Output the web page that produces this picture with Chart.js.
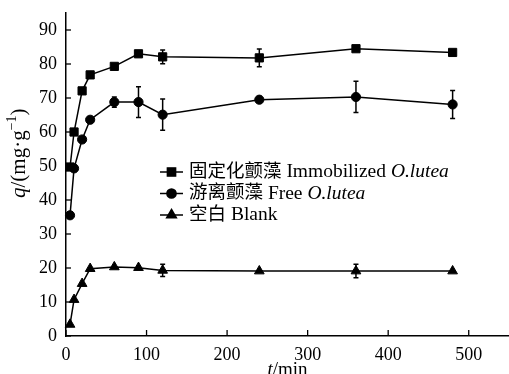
<!DOCTYPE html>
<html>
<head>
<meta charset="utf-8">
<script src="https://cdn.jsdelivr.net/npm/chart.js@4"></script>
<style>
html,body{margin:0;padding:0;background:#fff;}
canvas{display:block;}
</style>
</head>
<body>
<canvas id="c" width="509" height="374"></canvas>
<script>
// ---- data ----
const times = [5, 10, 20, 30, 60, 90, 120, 240, 360, 480];
const immobilized = [49.7, 60.0, 72.1, 76.8, 79.3, 83.0, 82.1, 81.8, 84.5, 83.4];
const immobilizedErr = [0, 0, 0, 0, 0, 0.8, 2.0, 2.6, 0.6, 0.6];
const freeAlgae = [35.5, 49.3, 57.8, 63.6, 68.8, 68.8, 65.1, 69.5, 70.3, 68.1];
const freeErr = [0, 0, 0, 0, 1.5, 4.5, 4.6, 0, 4.6, 4.1];
const blank = [3.4, 10.7, 15.4, 19.8, 20.3, 20.1, 19.3, 19.1, 19.1, 19.1];
const blankErr = [0, 0, 0, 0, 0, 0, 1.8, 0, 2.0, 0];
const xTicks = [0, 100, 200, 300, 400, 500];
const yTicks = [0, 10, 20, 30, 40, 50, 60, 70, 80, 90];
// [text, italic, fontSize]
const legendLabels = [
  [["固定化颤藻", false, 18.5], [" Immobilized ", false, 19.5], ["O.lutea", true, 19.5]],
  [["游离颤藻", false, 18.5], [" Free ", false, 19.5], ["O.lutea", true, 19.5]],
  [["空白", false, 18.5], [" Blank", false, 19.5]]
];

const FAM = "'Liberation Serif', 'Noto Sans CJK SC', serif";
Chart.defaults.font.family = FAM;
Chart.defaults.font.size = 18;
Chart.defaults.color = '#000';

function pts(vals){ return times.map((t,i)=>({x:t,y:vals[i]})); }

function ds(label, vals, errs, style, radius){
  return {
    label, data: pts(vals), errors: errs,
    borderColor:'#000', backgroundColor:'#000', borderWidth:1.5,
    pointStyle:style, pointRadius:radius, pointHoverRadius:radius,
    pointBackgroundColor:'#000', pointBorderColor:'#000', pointBorderWidth:1,
    tension:0, fill:false, clip:false
  };
}

const extras = {
  id:'extras',
  afterDatasetsDraw(chart){
    const ctx = chart.ctx, xs = chart.scales.x, ys = chart.scales.y;
    ctx.save();
    ctx.strokeStyle='#000'; ctx.lineWidth=1.5;
    // error bars
    chart.data.datasets.forEach(d=>{
      d.data.forEach((p,i)=>{
        const e = d.errors[i];
        if(!e) return;
        const x = xs.getPixelForValue(p.x);
        const y1 = ys.getPixelForValue(p.y+e), y2 = ys.getPixelForValue(p.y-e);
        ctx.beginPath();
        ctx.moveTo(x,y1); ctx.lineTo(x,y2);
        ctx.moveTo(x-2.5,y1); ctx.lineTo(x+2.5,y1);
        ctx.moveTo(x-2.5,y2); ctx.lineTo(x+2.5,y2);
        ctx.stroke();
      });
    });
    // inward ticks
    ctx.lineWidth=1.3;
    const ca = chart.chartArea;
    xTicks.forEach(v=>{
      const x = xs.getPixelForValue(v);
      ctx.beginPath(); ctx.moveTo(x,ca.bottom); ctx.lineTo(x,ca.bottom-6); ctx.stroke();
    });
    yTicks.forEach(v=>{
      const y = ys.getPixelForValue(v);
      ctx.beginPath(); ctx.moveTo(ca.left,y); ctx.lineTo(ca.left+5,y); ctx.stroke();
    });
    // legend
    const rows = [172, 193.5, 215];
    chart.data.datasets.forEach((d,i)=>{
      const y = rows[i];
      ctx.lineWidth=1.5;
      ctx.beginPath(); ctx.moveTo(160,y); ctx.lineTo(183,y); ctx.stroke();
      Chart.helpers.drawPoint(ctx,{pointStyle:d.pointStyle, radius:d.pointRadius, borderWidth:1}, 171.5, y);
      ctx.fill();
      let x = 189;
      ctx.textBaseline='middle'; ctx.textAlign='left'; ctx.fillStyle='#000';
      legendLabels[i].forEach(([txt,it,sz])=>{
        ctx.font = (it?'italic ':'') + sz + 'px ' + FAM;
        ctx.fillText(txt,x,y);
        x += ctx.measureText(txt).width;
      });
    });
    // x title
    ctx.textBaseline='alphabetic';
    let parts = [["t",true],["/min",false]];
    let w = 0;
    parts.forEach(([t,it])=>{ctx.font=(it?'italic ':'')+'19px '+FAM; w+=ctx.measureText(t).width;});
    let x0 = (ca.left+ca.right)/2 - w/2;
    parts.forEach(([t,it])=>{ctx.font=(it?'italic ':'')+'19px '+FAM; ctx.fillText(t,x0,375); x0+=ctx.measureText(t).width;});
    // y title
    ctx.save();
    ctx.translate(25,198);
    ctx.rotate(-Math.PI/2);
    let yp = [["q",true,21,0],["/(mg·g",false,21,0],["−1",false,14,-9],[")",false,21,0]];
    let cx = 0;
    yp.forEach(([t,it,s,dy])=>{ctx.font=(it?'italic ':'')+s+'px '+FAM; ctx.fillText(t,cx,dy); cx+=ctx.measureText(t).width;});
    ctx.restore();
    ctx.restore();
  }
};

new Chart(document.getElementById('c'),{
  type:'line',
  data:{datasets:[
    ds('固定化颤藻 Immobilized O.lutea', immobilized, immobilizedErr, 'rect', 5.8),
    ds('游离颤藻 Free O.lutea', freeAlgae, freeErr, 'circle', 4.6),
    ds('空白 Blank', blank, blankErr, 'triangle', 5.6)
  ]},
  options:{
    responsive:false, animation:false, devicePixelRatio:1,
    layout:{autoPadding:false, padding:{top:13,left:0,right:0,bottom:0}},
    plugins:{legend:{display:false}, tooltip:{enabled:false}},
    scales:{
      x:{type:'linear', min:0, max:550,
        afterBuildTicks:s=>{s.ticks = xTicks.map(v=>({value:v}));},
        afterFit:s=>{s.height=38; s.paddingLeft=0; s.paddingRight=0;},
        grid:{drawOnChartArea:false, drawTicks:false},
        border:{display:true,color:'#000',width:1.5},
        ticks:{padding:8, maxRotation:0, font:{size:18}}
      },
      y:{min:0, max:95,
        afterBuildTicks:s=>{s.ticks = yTicks.map(v=>({value:v}));},
        afterFit:s=>{s.width=66; s.paddingTop=0; s.paddingBottom=0;},
        grid:{drawOnChartArea:false, drawTicks:false},
        border:{display:true,color:'#000',width:1.5},
        ticks:{padding:9, font:{size:18}}
      }
    }
  },
  plugins:[extras]
});
</script>
</body>
</html>
